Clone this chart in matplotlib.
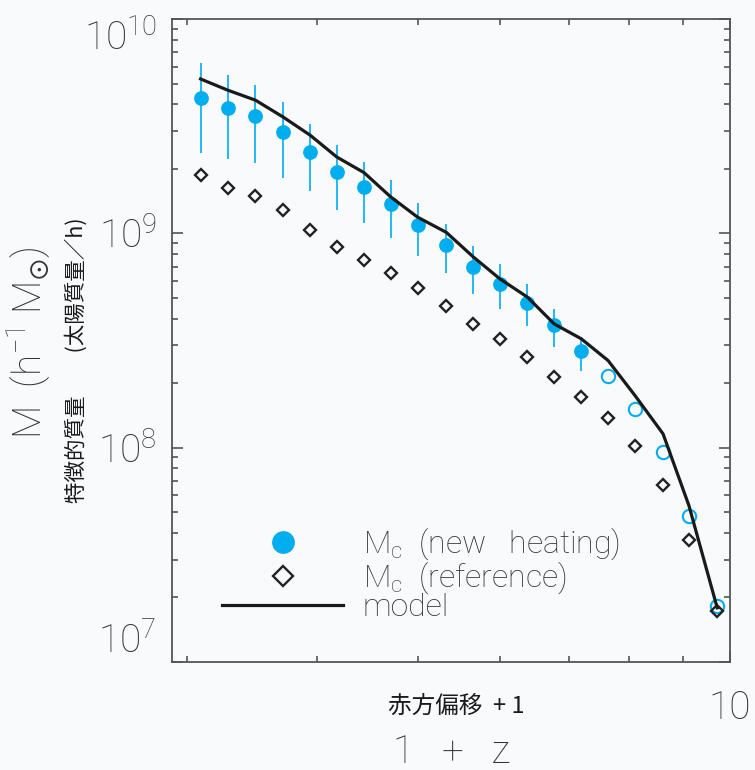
import numpy as np
import matplotlib.pyplot as plt
from matplotlib.lines import Line2D
from matplotlib.ticker import NullFormatter, LogLocator

plt.rcParams['mathtext.default'] = 'regular'

# datos
z1 = [3.09, 3.28, 3.49, 3.71, 3.94, 4.18, 4.44, 4.71, 5.00, 5.33,
      5.66, 6.00, 6.38, 6.77, 7.19, 7.63, 8.10, 8.62, 9.13, 9.72]
m_new = [4.29e9, 3.84e9, 3.51e9, 2.96e9, 2.40e9, 1.93e9, 1.64e9, 1.37e9, 1.09e9, 8.79e8,
         6.96e8, 5.82e8, 4.72e8, 3.72e8, 2.81e8, 2.15e8, 1.51e8, 9.58e7, 4.81e7, 1.83e7]
m_hi = [6.25e9, 5.47e9, 4.90e9, 4.12e9, 3.24e9, 2.59e9, 2.15e9, 1.77e9, 1.39e9, 1.11e9,
        8.69e8, 7.21e8, 5.82e8, 4.45e8, 3.28e8]
m_lo = [2.36e9, 2.22e9, 2.13e9, 1.81e9, 1.57e9, 1.28e9, 1.12e9, 9.54e8, 7.81e8, 6.55e8,
        5.22e8, 4.45e8, 3.69e8, 2.94e8, 2.29e8]
m_ref = [1.88e9, 1.62e9, 1.49e9, 1.29e9, 1.04e9, 8.63e8, 7.54e8, 6.52e8, 5.57e8, 4.56e8,
         3.78e8, 3.22e8, 2.64e8, 2.13e8, 1.72e8, 1.38e8, 1.02e8, 6.71e7, 3.70e7, 1.73e7]
m_model = [5.25e9, 4.66e9, 4.18e9, 3.49e9, 2.87e9, 2.27e9, 1.92e9, 1.48e9, 1.19e9, 1.01e9,
           7.75e8, 6.14e8, 5.04e8, 3.78e8, 3.22e8, 2.55e8, 1.75e8, 1.16e8, 5.36e7, 1.79e7]
n_filled = 15

ylabels = ['$10^{7}$', '$10^{8}$', '$10^{9}$', '$10^{10}$']
yticks = [1e7, 1e8, 1e9, 1e10]

blue = '#00adef'
bg = '#f9fafc'
gris = '#333333'
fuente = ['Roboto', 'DejaVu Sans']
cjk = ['Noto Sans CJK JP', 'DejaVu Sans']
peso = 'light'

fig = plt.figure(figsize=(7.55, 7.7), dpi=100, facecolor=bg)
ax = fig.add_axes([172/755, 1 - 662/770, 558/755, 643/770], facecolor=bg)

x = np.array(z1)
y = np.array(m_new)
err = [y[:n_filled] - np.array(m_lo), np.array(m_hi) - y[:n_filled]]

ax.errorbar(x[:n_filled], y[:n_filled], yerr=err, fmt='o', color=blue,
            ms=9.6, elinewidth=1.2, capsize=0, zorder=3)
ax.plot(x[n_filled:], y[n_filled:], 'o', mfc='none', mec=blue, mew=1.5, ms=9.6, zorder=3)
ax.plot(x, m_ref, 'D', mfc='none', mec='#222222', mew=1.7, ms=6.6, zorder=3)
ax.plot(x, m_model, '-', color='#1a1a1a', lw=2.3, zorder=4)

ax.set_xscale('log')
ax.set_yscale('log')
ax.set_xlim(2.9, 10)
ax.set_ylim(1e7, 1e10)

ax.set_xticks([10])
ax.set_xticklabels(['10'])
ax.xaxis.set_minor_locator(LogLocator(base=10, subs=np.arange(2, 10)))
ax.xaxis.set_minor_formatter(NullFormatter())
ax.set_yticks(yticks)
ax.set_yticklabels(ylabels)
ax.yaxis.set_minor_locator(LogLocator(base=10, subs=np.arange(2, 10)))
ax.yaxis.set_minor_formatter(NullFormatter())

ax.tick_params(which='both', direction='in', top=True, right=True, color='#555555', width=1.2)
ax.tick_params(which='major', length=8)
ax.tick_params(which='minor', length=4.5)
ax.tick_params(axis='y', which='major', pad=11, labelsize=28, labelcolor=gris)
ax.tick_params(axis='x', which='major', pad=20, labelsize=28, labelcolor=gris)
for lab in ax.get_xticklabels() + ax.get_yticklabels():
    lab.set_family(fuente)
    lab.set_fontweight(peso)
ylabs = ax.get_yticklabels()
ylabs[0].set_va('bottom')
ylabs[-1].set_va('top')

for s in ax.spines.values():
    s.set_color('#555555')
    s.set_linewidth(1.3)

# etiquetas de los ejes
fig.text(29/755, 1 - 343/770, r'M  (h$^{-1}$ M$_{\odot}$)', rotation=90, ha='center', va='center',
         fontsize=28, color=gris, family=fuente, fontweight=peso)
fig.text(77/755, 1 - 360/770, '特徴的質量　　(太陽質量／h)', rotation=90, ha='center', va='center',
         fontsize=15.5, color='#1a1a1a', family=cjk)
fig.text(452/755, 1 - 752/770, '1   +   z', ha='center', va='center',
         fontsize=28, color=gris, family=fuente, fontweight=peso)
fig.text(456/755, 1 - 706/770, '赤方偏移  + 1', ha='center', va='center',
         fontsize=17, color='#1a1a1a', family=cjk)

# leyenda
handles = [
    Line2D([], [], marker='o', ls='none', color=blue, ms=9.6),
    Line2D([], [], marker='D', ls='none', mfc='none', mec='#222222', mew=1.7, ms=6.6),
    Line2D([], [], color='#1a1a1a', lw=2.3),
]
labels = ['M$_c$  (new   heating)', 'M$_c$  (reference)', 'model']
leg = ax.legend(handles, labels, loc='center left', bbox_to_anchor=(222/755, 1 - 574/770),
                bbox_transform=fig.transFigure, frameon=False, borderpad=0, borderaxespad=0,
                handlelength=3.8, handletextpad=0.6, labelspacing=-0.08, markerscale=1.6,
                prop={'family': fuente, 'size': 23, 'weight': peso})
for t in leg.get_texts():
    t.set_color(gris)

fig.savefig('out.png', dpi=100, facecolor=bg)
